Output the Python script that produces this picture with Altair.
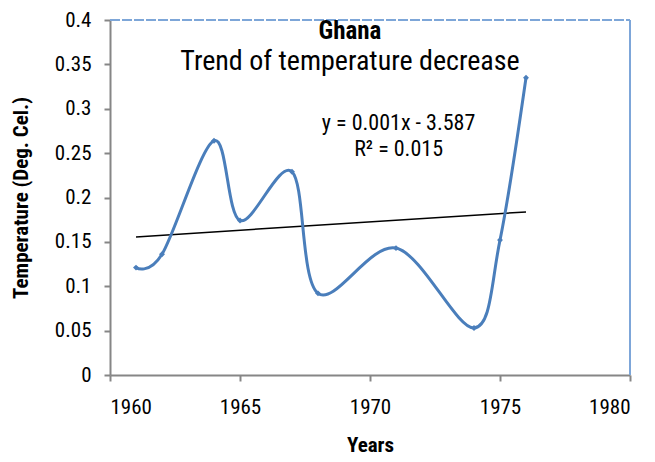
import altair as alt
import pandas as pd

years = [1961, 1962, 1964, 1965, 1967, 1968, 1971, 1974, 1975, 1976]
temps = [0.121, 0.136, 0.264, 0.174, 0.229, 0.092, 0.143, 0.053, 0.152, 0.335]

trend_years = [1961, 1976]
trend_vals = [0.1556, 0.1838]

ann_text = ["y = 0.001x - 3.587", "R² = 0.015"]
ann_x = [1971.1, 1971.1]
ann_y = [0.284, 0.255]

FONT = "Liberation Sans Narrow, Roboto Condensed, Liberation Sans, Arial"
BLUE = "#4a7ebb"

df = pd.DataFrame({"Year": years, "Temp": temps})
tr = pd.DataFrame({"Year": trend_years, "Temp": trend_vals})
ann = pd.DataFrame({"Year": ann_x, "Temp": ann_y, "label": ann_text})

xs = alt.Scale(domain=[1960, 1980], nice=False, zero=False)
ys = alt.Scale(domain=[0, 0.4], nice=False)

xax = alt.Axis(values=[1960, 1965, 1970, 1975, 1980], format="d", title="Years",
               labelPadding=15, titlePadding=17, grid=False)
yax = alt.Axis(values=[0, 0.05, 0.1, 0.15, 0.2, 0.25, 0.3, 0.35, 0.4], format="~g",
               title="Temperature (Deg. Cel.)", labelPadding=13, titlePadding=23, grid=False)

line = alt.Chart(df).mark_line(interpolate="cardinal", color=BLUE, strokeWidth=3).encode(
    x=alt.X("Year:Q", scale=xs, axis=xax),
    y=alt.Y("Temp:Q", scale=ys, axis=yax),
)
pts = alt.Chart(df).mark_point(shape="diamond", filled=True, color=BLUE, size=35, opacity=1).encode(
    x=alt.X("Year:Q", scale=xs), y=alt.Y("Temp:Q", scale=ys)
)
trend = alt.Chart(tr).mark_line(color="black", strokeWidth=1.5).encode(
    x=alt.X("Year:Q", scale=xs), y=alt.Y("Temp:Q", scale=ys)
)
txt = alt.Chart(ann).mark_text(font=FONT, fontSize=22, color="black").encode(
    x=alt.X("Year:Q", scale=xs), y=alt.Y("Temp:Q", scale=ys), text="label:N"
)
border_top = alt.Chart(df).mark_rule(color="#7ea6d8", strokeWidth=1.5, strokeDash=[10, 2]).encode(
    x=alt.value(0), x2=alt.value(520), y=alt.value(0)
)
border_right = alt.Chart(df).mark_rule(color="#7ea6d8", strokeWidth=1.5).encode(
    x=alt.value(520), y=alt.value(0), y2=alt.value(355)
)

chart = alt.layer(border_top, border_right, trend, line, pts, txt).properties(
    width=520, height=355,
    autosize=alt.AutoSizeParams(type="none"),
    padding={"left": 102, "top": 12, "right": 17, "bottom": 80},
    title=alt.TitleParams(
        text="Ghana", subtitle="Trend of temperature decrease",
        anchor="middle", offset=-67, dx=-20,
        font=FONT, fontSize=25, fontWeight="bold", color="black",
        subtitleFont=FONT, subtitleFontSize=28, subtitleColor="black", subtitlePadding=4,
    ),
).configure_view(stroke=None).configure_axis(
    domainColor="#868686", domainWidth=2, tickColor="#868686", tickWidth=2, tickSize=6,
    labelFont=FONT, labelFontSize=21, labelColor="black",
    titleFont=FONT, titleFontSize=21, titleFontWeight="bold", titleColor="black",
)

chart.save("out.html", embed_options={"renderer": "svg", "actions": False})
